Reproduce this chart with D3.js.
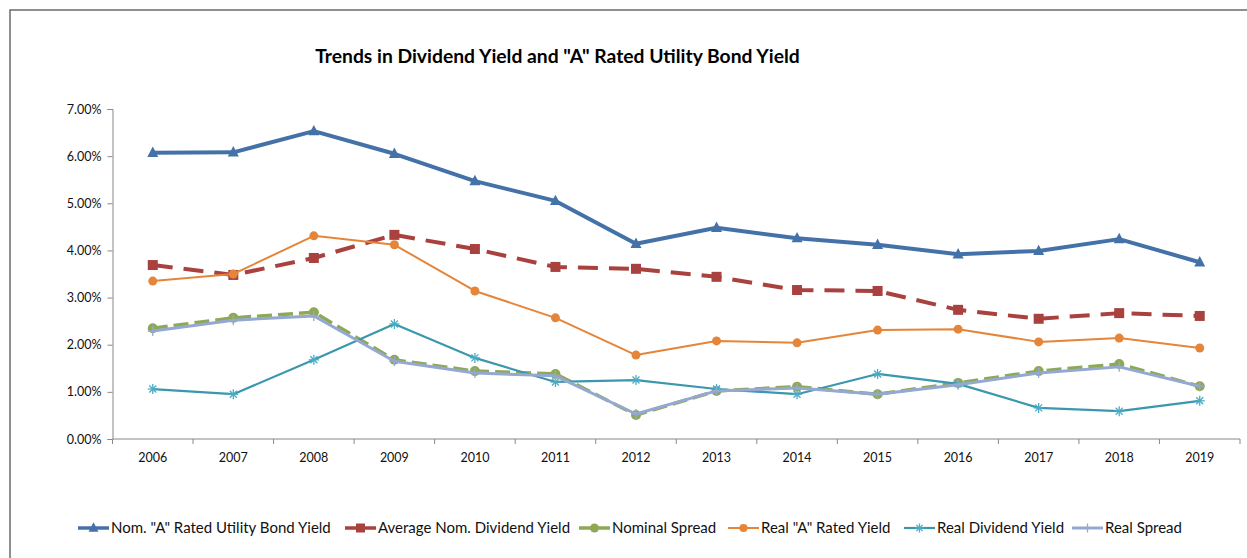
<!DOCTYPE html>
<html><head><meta charset="utf-8">
<script src="https://cdn.jsdelivr.net/npm/d3@7"></script>
<style>body{margin:0;background:#fff;}svg{display:block;font-family:Lato,"Open Sans",sans-serif;}</style>
</head><body><svg id="c" width="1247" height="558"></svg>
<script>
const years = ["2006","2007","2008","2009","2010","2011","2012","2013","2014","2015","2016","2017","2018","2019"];
const nomBond   = [6.07,6.08,6.53,6.05,5.47,5.05,4.14,4.48,4.26,4.12,3.92,3.99,4.24,3.75];
const nomDiv    = [3.69,3.48,3.84,4.33,4.03,3.65,3.61,3.44,3.16,3.14,2.74,2.55,2.67,2.61];
const nomSpread = [2.35,2.57,2.69,1.68,1.44,1.38,0.51,1.02,1.11,0.95,1.19,1.44,1.59,1.12];
const realBond  = [3.35,3.50,4.31,4.12,3.14,2.57,1.78,2.08,2.04,2.31,2.33,2.06,2.14,1.93];
const realDiv   = [1.06,0.95,1.68,2.44,1.72,1.21,1.25,1.06,0.95,1.38,1.17,0.66,0.59,0.81];
const realSpread= [2.29,2.52,2.61,1.65,1.40,1.34,0.53,1.02,1.08,0.95,1.15,1.40,1.53,1.12];
const yTicks = [0,1,2,3,4,5,6,7];
const names = ['Nom. "A" Rated Utility Bond Yield','Average Nom. Dividend Yield','Nominal Spread','Real "A" Rated Yield','Real Dividend Yield','Real Spread'];
const title = 'Trends in Dividend Yield and "A" Rated Utility Bond Yield';

const series = [
  {name:names[0], values:nomBond,   color:"#4472A8", width:4,   dash:null,    marker:"triangle", mcolor:"#4472A8", msize:11},
  {name:names[1], values:nomDiv,    color:"#A9413F", width:4,   dash:"20,11", marker:"square",   mcolor:"#A9413F", msize:10},
  {name:names[2], values:nomSpread, color:"#8EA955", width:3.5, dash:"15,6",  marker:"circle",   mcolor:"#8EA955", msize:10},
  {name:names[3], values:realBond,  color:"#E5853A", width:2,   dash:null,    marker:"circle",   mcolor:"#E5853A", msize:9},
  {name:names[4], values:realDiv,   color:"#3B97AE", width:2.2, dash:null,    marker:"star",     mcolor:"#4BACC6", msize:10},
  {name:names[5], values:realSpread,color:"#94A8D2", width:3,   dash:null,    marker:"plus",     mcolor:"#94A8D2", msize:10}
];

const svg = d3.select("#c");
svg.append("rect").attr("x",10).attr("y",10).attr("width",1250).attr("height",560)
  .attr("fill","none").attr("stroke","#6b6b6b").attr("stroke-width",1.5);

const x0 = 112.5, x1 = 1240, yTop = 109, yBot = 439;
const x = d3.scaleBand().domain(years).range([x0,x1]);
const y = d3.scaleLinear().domain([0,7]).range([yBot,yTop]);
const cx = d => x(d) + x.bandwidth()/2;

svg.append("text").attr("x",557.5).attr("y",63).attr("text-anchor","middle")
  .attr("font-weight","bold").attr("font-size",19.3).attr("fill","#000").text(title);

const gy = svg.append("g").attr("transform",`translate(${x0},0)`)
  .call(d3.axisLeft(y).tickValues(yTicks).tickFormat(d=>d.toFixed(2)+"%").tickSize(5).tickPadding(6));
gy.select(".domain").attr("stroke","#888");
gy.selectAll(".tick line").attr("stroke","#888");
gy.selectAll("text").attr("font-size",12.5).attr("fill","#111").attr("font-family","Lato,sans-serif");

const gx = svg.append("g").attr("transform",`translate(0,${yBot})`);
gx.append("line").attr("x1",x0).attr("x2",x1).attr("stroke","#888");
const bounds = years.map(d=>x(d)).concat([x1]);
gx.selectAll("line.t").data(bounds).join("line").attr("class","t")
  .attr("x1",d=>d).attr("x2",d=>d).attr("y1",0).attr("y2",5).attr("stroke","#888");
gx.selectAll("text").data(years).join("text")
  .attr("x",d=>cx(d)).attr("y",23).attr("text-anchor","middle")
  .attr("font-size",12.5).attr("fill","#111").text(d=>d);

function marker(g, type, px, py, s, col){
  if(type==="triangle"){
    const h=s*0.95;
    g.append("path").attr("d",`M${px},${py-h*0.6}L${px+s/2},${py+h*0.4}L${px-s/2},${py+h*0.4}Z`).attr("fill",col);
  } else if(type==="square"){
    g.append("rect").attr("x",px-s/2).attr("y",py-s/2).attr("width",s).attr("height",s).attr("fill",col);
  } else if(type==="circle"){
    g.append("circle").attr("cx",px).attr("cy",py).attr("r",s/2).attr("fill",col);
  } else if(type==="star"){
    const r=s/2;
    [[-r,0,r,0],[-r*0.7,-r*0.7,r*0.7,r*0.7],[-r*0.7,r*0.7,r*0.7,-r*0.7],[0,-r,0,r]].forEach(a=>{
      g.append("line").attr("x1",px+a[0]).attr("y1",py+a[1]).attr("x2",px+a[2]).attr("y2",py+a[3]).attr("stroke",col).attr("stroke-width",1.3);
    });
  } else if(type==="plus"){
    const r=s/2;
    g.append("line").attr("x1",px-r).attr("x2",px+r).attr("y1",py).attr("y2",py).attr("stroke",col).attr("stroke-width",1.3);
    g.append("line").attr("x1",px).attr("x2",px).attr("y1",py-r).attr("y2",py+r).attr("stroke",col).attr("stroke-width",1.3);
  }
}

const line = d3.line().x((d,i)=>cx(years[i])).y(d=>y(d));
series.forEach(s=>{
  const g = svg.append("g");
  g.append("path").datum(s.values).attr("d",line).attr("fill","none")
    .attr("stroke",s.color).attr("stroke-width",s.width)
    .attr("stroke-dasharray",s.dash).attr("stroke-linejoin","round");
  s.values.forEach((v,i)=>marker(g,s.marker,cx(years[i]),y(v),s.msize,s.mcolor));
});

const legX = [78,345,579,728,904,1072];
const legY = 528;
series.forEach((s,i)=>{
  const g = svg.append("g");
  const lx = legX[i];
  g.append("line").attr("x1",lx).attr("x2",lx+31).attr("y1",legY).attr("y2",legY)
    .attr("stroke",s.color).attr("stroke-width",Math.min(s.width,3.5));
  marker(g,s.marker,lx+15.5,legY,s.msize*0.9,s.mcolor);
  g.append("text").attr("x",lx+33).attr("y",legY+5).attr("font-size",15).attr("fill","#111").text(s.name);
});
</script></body></html>
